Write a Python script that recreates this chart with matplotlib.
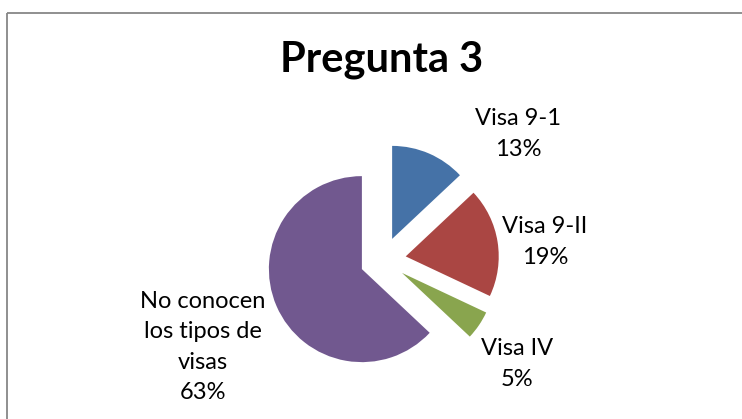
import matplotlib
matplotlib.use("Agg")
import matplotlib.pyplot as plt
from matplotlib.patches import Rectangle

labels = ["Visa 9-1", "Visa 9-II", "Visa IV", "No conocen\nlos tipos de\nvisas"]
values = [13, 19, 5, 63]
colors = ["#4572A7", "#AA4643", "#89A54E", "#71588F"]

# label centres in pixels (x, y from top)
label_pos = [(518, 134), (545, 242), (517, 364), (203, 347)]

W, H = 742, 419
fig = plt.figure(figsize=(W / 100, H / 100), dpi=100)
ax = fig.add_axes([0, 0, 1, 1])

plt.rcParams["font.family"] = ["Lato", "DejaVu Sans"]

ax.add_patch(Rectangle((7, 12.5), W, H, fill=False, edgecolor="#878787", lw=1.3))

# y axis is flipped below, so -90 / counterclock gives top start, clockwise
ax.pie(values, colors=colors, startangle=-90, counterclock=True,
       center=(383, 260), radius=93, explode=[23] * len(values),
       wedgeprops=dict(linewidth=0), frame=True)
ax.set_xlim(0, W)
ax.set_ylim(H, 0)
ax.set_aspect("equal")
ax.set_axis_off()

for lab, v, (x, y) in zip(labels, values, label_pos):
    ax.text(x, y, "%s\n%d%%" % (lab, v), ha="center", va="center",
            fontsize=17, family=["Lato", "DejaVu Sans"], linespacing=1.55,
            color="#000000")

ax.text(382, 60, "Pregunta 3", ha="center", va="center", fontsize=30,
        fontweight="bold", family=["Lato", "DejaVu Sans"])

fig.savefig("out.png", dpi=100)
